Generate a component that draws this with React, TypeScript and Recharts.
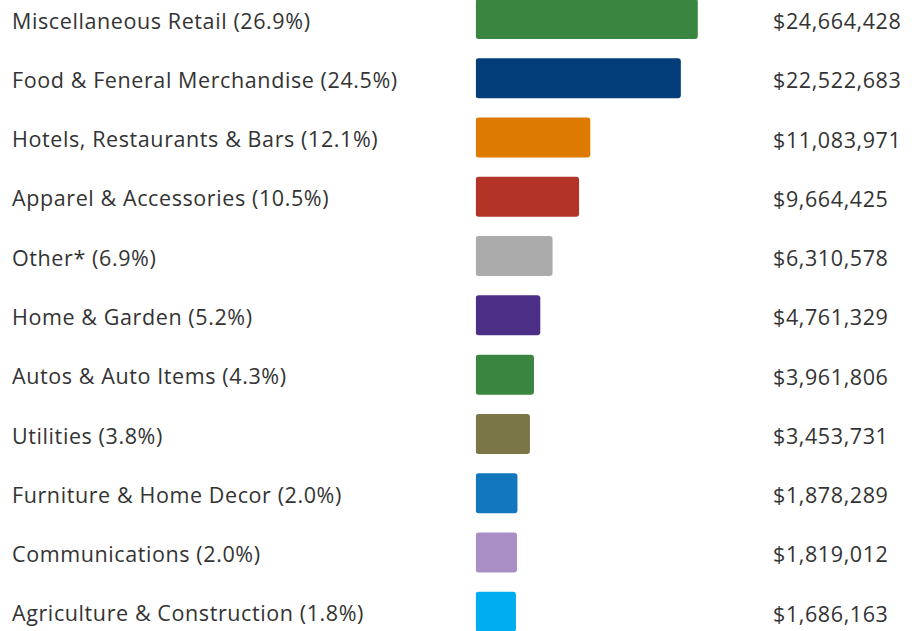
import React from "react";
import { BarChart, Bar, XAxis, YAxis, LabelList, Rectangle } from "recharts";

const categories = [
  "Miscellaneous Retail",
  "Food & Feneral Merchandise",
  "Hotels, Restaurants & Bars",
  "Apparel & Accessories",
  "Other*",
  "Home & Garden",
  "Autos & Auto Items",
  "Utilities",
  "Furniture & Home Decor",
  "Communications",
  "Agriculture & Construction",
];

const shares = ["26.9", "24.5", "12.1", "10.5", "6.9", "5.2", "4.3", "3.8", "2.0", "2.0", "1.8"];

const sales = [
  24664428, 22522683, 11083971, 9664425, 6310578, 4761329, 3961806, 3453731, 1878289, 1819012,
  1686163,
];

const colors = [
  "#3a8540", "#033e7b", "#dd7a00", "#b33427", "#aaaaaa", "#4b2e86",
  "#3a8540", "#7a7648", "#1277bc", "#a98fc4", "#00aeef",
];

const data = categories.map((name, i) => ({
  name,
  label: `${name} (${shares[i]}%)`,
  value: sales[i],
}));

const FONT = "'Open Sans', sans-serif";
const TEXT = "#333333";
const textStyle = {
  fontFamily: FONT,
  fontSize: 21.5,
  fontWeight: 400,
  letterSpacing: 0.6,
  fill: TEXT,
};

const money = (v: number) => "$" + v.toLocaleString("en-US");

// bars start from the left edge of the plot, not from zero
const BarShape = (props: any) => {
  const { x, y, width, height, background, index } = props;
  const left = background ? background.x : x;
  return (
    <Rectangle
      x={left}
      y={y}
      width={x + width - left}
      height={height}
      radius={3}
      fill={colors[index]}
    />
  );
};

const CategoryTick = (props: any) => {
  const { y, payload, index } = props;
  return (
    <text x={12} y={y + 1.5} textAnchor="start" dominantBaseline="central" style={textStyle}>
      {data[index] ? data[index].label : payload.value}
    </text>
  );
};

const ValueLabel = (props: any) => {
  const { y, height, value } = props;
  return (
    <text
      x={773}
      y={y + height / 2 + 1.5}
      textAnchor="start"
      dominantBaseline="central"
      style={textStyle}
    >
      {money(value)}
    </text>
  );
};

export default function App() {
  return (
    <div style={{ width: 917, height: 631, overflow: "hidden", position: "relative" }}>
      <style>{"body{margin:0;background:#fff}"}</style>
      <div style={{ position: "absolute", top: -11.3, left: 0 }}>
        <BarChart
          width={917}
          height={652}
          data={data}
          layout="vertical"
          margin={{ top: 0, right: 177, bottom: 0, left: 0 }}
          barSize={40}
        >
          <XAxis type="number" hide domain={[-3400000, 30000000]} allowDataOverflow />
          <YAxis
            type="category"
            dataKey="name"
            width={475.7}
            axisLine={false}
            tickLine={false}
            tick={<CategoryTick />}
            interval={0}
          />
          <Bar dataKey="value" shape={<BarShape />} isAnimationActive={false}>
            <LabelList dataKey="value" content={<ValueLabel />} />
          </Bar>
        </BarChart>
      </div>
    </div>
  );
}
